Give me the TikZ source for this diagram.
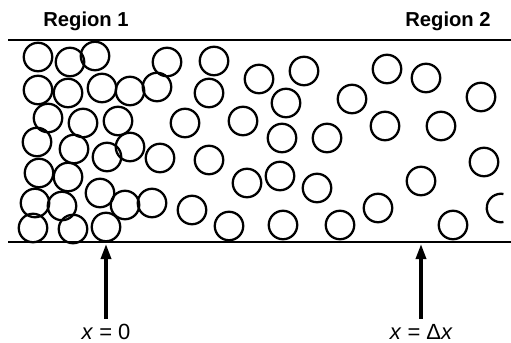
\documentclass[tikz,border=0pt]{standalone}
\usepackage{fontspec}
\setmainfont{Liberation Sans}
\usepackage{tikz}
\usetikzlibrary{arrows.meta}

\begin{document}
\begin{tikzpicture}[
    x=0.02cm, y=-0.02cm,
    wall/.style={line width=1.3pt},
    ball/.style={line width=1.3pt},
    arr/.style={-{Triangle[length=0.3cm, width=0.2cm]}, line width=1.9pt},
    lab/.style={font=\fontsize{11.5}{13}\selectfont\bfseries},
    xlab/.style={font=\fontsize{12.5}{14}\selectfont, inner sep=1pt}
]
\useasboundingbox (0,0) rectangle (511,342);
% channel walls
\coordinate (wtl) at (8,40);
\coordinate (wtr) at (511,40);
\coordinate (wbl) at (8,242);
\coordinate (wbr) at (511,242);
\draw[wall] (wtl) -- (wtr);
\draw[wall] (wbl) -- (wbr);
% region labels
\node[lab] (reg1) at (86,21) {Region 1};
\node[lab] (reg2) at (448,21) {Region 2};
% particles
\foreach \px/\py in {38/57, 70/62, 95/56, 167/62, 38/90, 68/93, 102/88, 130/91, 157/87,
    48/118, 83/123, 118/121, 37/142, 74/149, 130/147, 107/157, 160/158,
    39/173, 68/177, 100/193, 35/203, 62/206, 125/205, 152/203,
    33/228, 73/229, 106/227,
    214/61, 209/93, 259/79, 304/71, 286/103, 185/123, 243/121, 282/138, 327/138,
    209/160, 247/183, 280/176, 317/188, 192/210, 229/226, 283/225, 340/225,
    387/69, 426/78, 352/99, 481/97, 385/126, 441/126, 484/162, 421/181,
    378/208, 453/225}
    \draw[ball] (\px,\py) circle[radius=0.285cm];
\draw[ball] (501,208) ++(80:0.285cm) arc[start angle=80, end angle=280, radius=0.285cm];
% positions
\node[xlab] (x0) at (106,332) {\itshape x\/\upshape\ = 0};
\node[xlab] (xd) at (421,332) {\itshape x\/\upshape\ = Δ\itshape x};
\coordinate (t0) at (106,244);
\coordinate (td) at (421,244);
\draw[arr] ([yshift=2pt]x0.north) -- (t0);
\draw[arr] ([yshift=2pt]xd.north) -- (td);
\end{tikzpicture}
\end{document}
